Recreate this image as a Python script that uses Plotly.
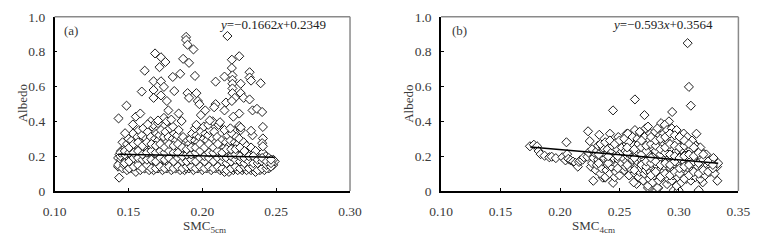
import plotly.graph_objects as go

# ---------------- Panel (a): SMC 5cm vs Albedo ----------------
panel_a_points = [
    (0.143,0.14),(0.144,0.16),(0.145,0.17),(0.143,0.19),(0.144,0.21),(0.145,0.23),(0.143,0.15),(0.145,0.18),
    (0.146,0.13),(0.147,0.15),(0.148,0.18),(0.146,0.20),(0.147,0.22),(0.148,0.25),(0.146,0.28),(0.148,0.17),
    (0.149,0.12),(0.150,0.14),(0.151,0.16),(0.149,0.19),(0.150,0.21),(0.151,0.24),(0.149,0.27),(0.150,0.30),
    (0.152,0.13),(0.153,0.15),(0.154,0.17),(0.152,0.20),(0.153,0.23),(0.154,0.26),(0.152,0.29),(0.153,0.33),(0.154,0.18),
    (0.155,0.11),(0.156,0.14),(0.157,0.16),(0.155,0.18),(0.156,0.21),(0.157,0.24),(0.155,0.27),(0.156,0.31),(0.157,0.35),
    (0.158,0.12),(0.159,0.15),(0.160,0.17),(0.158,0.19),(0.159,0.22),(0.160,0.25),(0.158,0.28),(0.159,0.32),(0.160,0.36),
    (0.161,0.13),(0.162,0.14),(0.163,0.16),(0.161,0.19),(0.162,0.21),(0.163,0.23),(0.161,0.26),(0.162,0.30),(0.163,0.34),
    (0.164,0.12),(0.165,0.15),(0.166,0.17),(0.164,0.20),(0.165,0.22),(0.166,0.25),(0.164,0.28),(0.165,0.31),(0.166,0.37),(0.165,0.40),
    (0.167,0.12),(0.168,0.14),(0.169,0.16),(0.167,0.18),(0.168,0.21),(0.169,0.24),(0.167,0.27),(0.168,0.30),(0.169,0.33),(0.167,0.38),
    (0.170,0.13),(0.171,0.15),(0.172,0.17),(0.170,0.20),(0.171,0.22),(0.172,0.25),(0.170,0.29),(0.171,0.32),(0.172,0.35),(0.170,0.39),
    (0.173,0.12),(0.174,0.14),(0.175,0.17),(0.173,0.19),(0.174,0.23),(0.175,0.26),(0.173,0.28),(0.174,0.31),(0.175,0.34),(0.174,0.42),
    (0.176,0.13),(0.177,0.15),(0.178,0.18),(0.176,0.20),(0.177,0.22),(0.178,0.25),(0.176,0.28),(0.177,0.31),(0.178,0.36),(0.176,0.40),
    (0.179,0.12),(0.180,0.14),(0.181,0.16),(0.179,0.19),(0.180,0.21),(0.181,0.24),(0.179,0.27),(0.180,0.30),(0.181,0.33),(0.180,0.37),
    (0.182,0.13),(0.183,0.15),(0.184,0.17),(0.182,0.20),(0.183,0.23),(0.184,0.25),(0.182,0.29),(0.183,0.32),(0.184,0.35),
    (0.185,0.12),(0.186,0.14),(0.187,0.16),(0.185,0.18),(0.186,0.21),(0.187,0.24),(0.185,0.27),(0.186,0.30),(0.187,0.31),
    (0.188,0.12),(0.189,0.13),(0.190,0.15),(0.188,0.18),(0.189,0.20),(0.190,0.22),(0.188,0.25),(0.189,0.28),(0.190,0.29),
    (0.191,0.13),(0.192,0.15),(0.193,0.17),(0.191,0.19),(0.192,0.22),(0.193,0.24),(0.191,0.27),(0.192,0.30),(0.193,0.33),
    (0.194,0.12),(0.195,0.14),(0.196,0.16),(0.194,0.19),(0.195,0.21),(0.196,0.23),(0.194,0.26),(0.195,0.29),(0.196,0.32),(0.195,0.36),
    (0.197,0.13),(0.198,0.15),(0.199,0.17),(0.197,0.20),(0.198,0.22),(0.199,0.25),(0.197,0.28),(0.198,0.31),(0.199,0.34),
    (0.200,0.12),(0.201,0.14),(0.202,0.16),(0.200,0.18),(0.201,0.21),(0.202,0.24),(0.200,0.27),(0.201,0.30),(0.202,0.33),(0.201,0.37),
    (0.203,0.13),(0.204,0.15),(0.205,0.17),(0.203,0.20),(0.204,0.23),(0.205,0.26),(0.203,0.29),(0.204,0.32),(0.205,0.35),(0.204,0.38),
    (0.206,0.12),(0.207,0.14),(0.208,0.16),(0.206,0.19),(0.207,0.21),(0.208,0.24),(0.206,0.27),(0.207,0.30),(0.208,0.34),(0.207,0.40),
    (0.209,0.13),(0.210,0.15),(0.211,0.18),(0.209,0.20),(0.210,0.22),(0.211,0.25),(0.209,0.28),(0.210,0.31),(0.211,0.38),
    (0.212,0.12),(0.213,0.14),(0.214,0.16),(0.212,0.19),(0.213,0.21),(0.214,0.24),(0.212,0.26),(0.213,0.29),
    (0.215,0.11),(0.216,0.13),(0.217,0.15),(0.215,0.17),(0.216,0.20),(0.217,0.23),(0.215,0.25),(0.216,0.28),(0.217,0.32),(0.215,0.35),
    (0.218,0.11),(0.219,0.14),(0.220,0.16),(0.218,0.18),(0.219,0.21),(0.220,0.23),(0.218,0.26),(0.219,0.29),(0.220,0.33),
    (0.221,0.12),(0.222,0.13),(0.223,0.15),(0.221,0.17),(0.222,0.20),(0.223,0.22),(0.221,0.25),(0.222,0.28),(0.223,0.31),
    (0.224,0.12),(0.225,0.14),(0.226,0.16),(0.224,0.19),(0.225,0.21),(0.226,0.24),(0.224,0.27),(0.225,0.30),(0.226,0.35),(0.225,0.37),
    (0.227,0.12),(0.228,0.13),(0.229,0.15),(0.227,0.17),(0.228,0.20),(0.229,0.22),(0.227,0.25),(0.228,0.28),
    (0.230,0.12),(0.231,0.14),(0.232,0.16),(0.230,0.18),(0.231,0.21),(0.232,0.23),(0.230,0.26),
    (0.233,0.12),(0.234,0.13),(0.235,0.15),(0.233,0.17),(0.234,0.19),(0.235,0.22),(0.233,0.25),(0.234,0.32),
    (0.236,0.11),(0.237,0.13),(0.238,0.15),(0.236,0.17),(0.237,0.19),(0.238,0.21),(0.236,0.23),
    (0.239,0.12),(0.240,0.14),(0.241,0.16),(0.239,0.18),(0.240,0.20),(0.241,0.22),
    (0.242,0.12),(0.243,0.14),(0.244,0.16),(0.242,0.18),(0.243,0.20),
    (0.245,0.13),(0.246,0.15),(0.247,0.17),(0.245,0.19),
    (0.248,0.15),(0.249,0.17),(0.248,0.18),
    # extra in-between points of the dense band
    (0.1445,0.20),(0.1445,0.22),(0.1475,0.16),(0.1475,0.21),(0.1475,0.23),
    (0.1505,0.13),(0.1505,0.17),(0.1505,0.22),(0.1505,0.25),(0.1535,0.14),(0.1535,0.19),(0.1535,0.22),(0.1535,0.27),
    (0.1565,0.15),(0.1565,0.19),(0.1565,0.23),(0.1565,0.28),(0.1595,0.13),(0.1595,0.18),(0.1595,0.21),(0.1595,0.26),
    (0.1625,0.15),(0.1625,0.18),(0.1625,0.22),(0.1625,0.28),(0.1655,0.13),(0.1655,0.18),(0.1655,0.23),(0.1655,0.27),
    (0.1685,0.13),(0.1685,0.17),(0.1685,0.22),(0.1685,0.26),(0.1715,0.14),(0.1715,0.19),(0.1715,0.23),(0.1715,0.27),
    (0.1745,0.13),(0.1745,0.18),(0.1745,0.22),(0.1745,0.25),(0.1775,0.14),(0.1775,0.19),(0.1775,0.23),(0.1775,0.27),
    (0.1805,0.13),(0.1805,0.17),(0.1805,0.22),(0.1805,0.26),(0.1835,0.14),(0.1835,0.19),(0.1835,0.22),(0.1835,0.27),
    (0.1865,0.13),(0.1865,0.17),(0.1865,0.20),(0.1865,0.25),(0.1895,0.14),(0.1895,0.17),(0.1895,0.21),(0.1895,0.24),
    (0.1925,0.14),(0.1925,0.18),(0.1925,0.21),(0.1925,0.25),(0.1955,0.13),(0.1955,0.17),(0.1955,0.22),(0.1955,0.25),
    (0.1985,0.14),(0.1985,0.19),(0.1985,0.23),(0.1985,0.27),(0.2015,0.13),(0.2015,0.17),(0.2015,0.20),(0.2015,0.25),
    (0.2045,0.14),(0.2045,0.19),(0.2045,0.22),(0.2045,0.27),(0.2075,0.13),(0.2075,0.17),(0.2075,0.22),(0.2075,0.25),
    (0.2105,0.14),(0.2105,0.19),(0.2105,0.23),(0.2105,0.27),(0.2135,0.13),(0.2135,0.17),(0.2135,0.20),(0.2135,0.22),
    (0.2165,0.12),(0.2165,0.16),(0.2165,0.19),(0.2165,0.24),(0.2195,0.13),(0.2195,0.17),(0.2195,0.20),(0.2195,0.24),
    (0.2225,0.14),(0.2225,0.18),(0.2225,0.21),(0.2225,0.24),(0.2255,0.13),(0.2255,0.17),(0.2255,0.20),(0.2255,0.25),
    (0.2285,0.14),(0.2285,0.16),(0.2285,0.19),(0.2285,0.23),(0.2315,0.13),(0.2315,0.17),(0.2315,0.20),
    (0.2345,0.14),(0.2345,0.16),(0.2345,0.20),(0.2375,0.12),(0.2375,0.16),(0.2375,0.18),
    (0.2405,0.13),(0.2405,0.17),(0.2405,0.19),(0.2435,0.13),(0.2435,0.15),(0.2435,0.17),
    (0.2465,0.14),(0.2465,0.16),(0.2465,0.18),
    # scattered high values
    (0.1433,0.417),(0.1437,0.077),(0.1477,0.332),(0.1487,0.490),(0.153,0.382),(0.155,0.427),
    (0.158,0.445),(0.159,0.571),(0.161,0.691),(0.168,0.790),(0.167,0.630),(0.167,0.580),
    (0.167,0.535),(0.171,0.711),(0.172,0.630),(0.172,0.549),(0.172,0.768),(0.175,0.741),
    (0.174,0.598),(0.176,0.517),(0.177,0.463),(0.180,0.655),(0.181,0.574),(0.185,0.673),
    (0.184,0.445),(0.187,0.759),(0.189,0.885),(0.189,0.867),(0.190,0.840),(0.191,0.736),
    (0.190,0.562),(0.191,0.535),(0.194,0.813),(0.195,0.661),(0.196,0.562),(0.197,0.517),
    (0.198,0.499),(0.199,0.436),(0.202,0.463),(0.209,0.628),(0.209,0.499),(0.208,0.481),
    (0.215,0.657),(0.216,0.508),(0.215,0.463),(0.217,0.890),(0.220,0.754),(0.220,0.706),
    (0.2204,0.664),(0.2204,0.639),(0.2204,0.616),(0.2204,0.589),(0.2204,0.562),(0.222,0.535),
    (0.220,0.517),(0.221,0.427),(0.225,0.774),(0.226,0.616),(0.226,0.562),(0.228,0.535),
    (0.225,0.445),(0.225,0.374),(0.226,0.365),(0.232,0.682),(0.232,0.652),(0.233,0.634),
    (0.232,0.526),(0.233,0.346),(0.234,0.463),(0.237,0.472),(0.2395,0.619),(0.2405,0.454),
    (0.241,0.368),(0.241,0.302),(0.2405,0.275),(0.241,0.257),(0.163,0.383),(0.170,0.405),
    (0.179,0.410),(0.186,0.402),(0.196,0.380),(0.205,0.405),(0.212,0.395),(0.219,0.360),
]
smc5 = [p[0] for p in panel_a_points]
albedo_a = [p[1] for p in panel_a_points]
fit_a_x = [0.143, 0.249]
slope_a, icept_a = -0.1662, 0.2349

# ---------------- Panel (b): SMC 4cm vs Albedo ----------------
panel_b_points = [
    # left tail
    (0.1747,0.257),(0.178,0.266),(0.1807,0.257),(0.182,0.230),(0.1837,0.212),(0.187,0.203),
    (0.191,0.194),(0.193,0.197),(0.1965,0.189),(0.202,0.194),(0.2046,0.176),(0.2054,0.280),
    (0.206,0.212),(0.207,0.185),(0.209,0.176),(0.211,0.169),(0.213,0.162),(0.215,0.140),
    (0.216,0.167),(0.217,0.176),(0.219,0.180),(0.220,0.194),(0.223,0.197),(0.224,0.221),
    (0.2236,0.343),(0.225,0.287),(0.228,0.059),(0.229,0.158),(0.227,0.140),
    (0.233,0.323),(0.236,0.266),(0.236,0.077),(0.238,0.077),(0.242,0.329),(0.2446,0.463),
    (0.2446,0.047),(0.248,0.104),(0.256,0.329),(0.2644,0.041),(0.263,0.526),(0.271,0.436),
    (0.274,0.018),(0.2807,0.000),(0.2826,0.018),(0.2916,0.400),(0.2943,0.454),(0.2957,0.005),
    (0.2997,0.005),(0.3073,0.849),(0.3084,0.598),(0.310,0.490),(0.3147,0.329),(0.3166,0.005),
    (0.320,0.050),(0.3323,0.059),(0.331,0.140),
    # dense cloud
    (0.226,0.14),(0.227,0.16),(0.228,0.19),(0.229,0.22),(0.227,0.24),
    (0.230,0.12),(0.231,0.15),(0.232,0.18),(0.233,0.20),(0.231,0.23),(0.232,0.26),
    (0.234,0.10),(0.235,0.13),(0.236,0.17),(0.237,0.19),(0.235,0.22),(0.236,0.25),(0.234,0.27),
    (0.238,0.08),(0.239,0.12),(0.240,0.15),(0.241,0.18),(0.239,0.21),(0.240,0.24),(0.238,0.28),
    (0.242,0.10),(0.243,0.14),(0.244,0.17),(0.245,0.19),(0.243,0.22),(0.244,0.26),(0.242,0.29),
    (0.246,0.08),(0.247,0.11),(0.248,0.15),(0.249,0.18),(0.247,0.21),(0.248,0.24),(0.246,0.27),(0.249,0.31),
    (0.250,0.09),(0.251,0.13),(0.252,0.16),(0.253,0.19),(0.251,0.22),(0.252,0.25),(0.250,0.29),
    (0.254,0.12),(0.255,0.14),(0.256,0.17),(0.257,0.20),(0.255,0.23),(0.256,0.27),(0.254,0.30),(0.257,0.33),
    (0.258,0.09),(0.259,0.13),(0.260,0.16),(0.261,0.18),(0.259,0.21),(0.260,0.24),(0.258,0.28),(0.261,0.31),
    (0.262,0.05),(0.263,0.10),(0.264,0.14),(0.265,0.17),(0.263,0.20),(0.264,0.22),(0.262,0.26),(0.265,0.30),(0.263,0.35),
    (0.266,0.08),(0.267,0.11),(0.268,0.13),(0.269,0.16),(0.267,0.19),(0.268,0.23),(0.266,0.27),(0.269,0.32),(0.267,0.34),
    (0.270,0.06),(0.271,0.10),(0.272,0.12),(0.273,0.15),(0.271,0.18),(0.272,0.21),(0.270,0.24),(0.273,0.28),(0.271,0.31),(0.272,0.36),
    (0.274,0.03),(0.275,0.07),(0.276,0.11),(0.277,0.14),(0.275,0.17),(0.276,0.20),(0.274,0.22),(0.277,0.25),(0.275,0.29),(0.276,0.33),(0.274,0.37),
    (0.278,0.05),(0.279,0.09),(0.280,0.12),(0.281,0.15),(0.279,0.18),(0.280,0.21),(0.278,0.24),(0.281,0.27),(0.279,0.30),(0.280,0.34),
    (0.282,0.02),(0.283,0.06),(0.284,0.10),(0.285,0.13),(0.283,0.16),(0.284,0.19),(0.282,0.22),(0.285,0.25),(0.283,0.28),(0.284,0.32),(0.282,0.36),(0.285,0.39),
    (0.286,0.08),(0.287,0.11),(0.288,0.14),(0.289,0.17),(0.287,0.20),(0.288,0.23),(0.286,0.26),(0.289,0.29),(0.287,0.33),(0.288,0.38),
    (0.290,0.04),(0.291,0.07),(0.292,0.10),(0.293,0.13),(0.291,0.16),(0.292,0.19),(0.290,0.22),(0.293,0.25),(0.291,0.28),(0.292,0.31),(0.290,0.35),
    (0.294,0.06),(0.295,0.09),(0.296,0.12),(0.297,0.15),(0.295,0.18),(0.296,0.21),(0.294,0.24),(0.297,0.27),(0.295,0.30),(0.296,0.34),(0.294,0.36),
    (0.298,0.03),(0.299,0.08),(0.300,0.11),(0.301,0.14),(0.299,0.17),(0.300,0.20),(0.298,0.23),(0.301,0.26),(0.299,0.29),(0.300,0.32),(0.298,0.35),
    (0.302,0.05),(0.303,0.09),(0.304,0.12),(0.305,0.15),(0.303,0.18),(0.304,0.21),(0.302,0.24),(0.305,0.27),(0.303,0.30),(0.304,0.33),
    (0.306,0.07),(0.307,0.10),(0.308,0.13),(0.309,0.16),(0.307,0.19),(0.308,0.22),(0.306,0.25),(0.309,0.28),(0.307,0.31),
    (0.310,0.06),(0.311,0.09),(0.312,0.12),(0.313,0.15),(0.311,0.18),(0.312,0.21),(0.310,0.24),(0.313,0.27),(0.311,0.29),
    (0.314,0.08),(0.315,0.11),(0.316,0.14),(0.317,0.17),(0.315,0.20),(0.316,0.23),(0.314,0.26),
    (0.318,0.07),(0.319,0.10),(0.320,0.13),(0.321,0.16),(0.319,0.19),(0.320,0.22),(0.318,0.25),
    (0.322,0.09),(0.323,0.12),(0.324,0.15),(0.325,0.18),(0.323,0.21),
    (0.326,0.11),(0.327,0.14),(0.328,0.17),(0.329,0.19),
    (0.330,0.10),(0.332,0.14),(0.333,0.16),
    # extra in-between points
    (0.2325,0.16),(0.2325,0.21),(0.2405,0.16),(0.2405,0.20),(0.2485,0.13),(0.2485,0.20),
    (0.2565,0.15),(0.2565,0.22),(0.2565,0.25),(0.2625,0.12),(0.2625,0.19),(0.2625,0.24),
    (0.2685,0.15),(0.2685,0.21),(0.2685,0.25),(0.2685,0.29),(0.2725,0.14),(0.2725,0.17),(0.2725,0.23),(0.2725,0.26),
    (0.2765,0.09),(0.2765,0.16),(0.2765,0.19),(0.2765,0.27),(0.2765,0.31),
    (0.2805,0.11),(0.2805,0.17),(0.2805,0.23),(0.2805,0.26),(0.2805,0.29),
    (0.2845,0.08),(0.2845,0.15),(0.2845,0.21),(0.2845,0.24),(0.2845,0.30),
    (0.2885,0.10),(0.2885,0.16),(0.2885,0.22),(0.2885,0.25),(0.2885,0.31),
    (0.2925,0.09),(0.2925,0.15),(0.2925,0.21),(0.2925,0.27),(0.2925,0.33),
    (0.2965,0.11),(0.2965,0.17),(0.2965,0.20),(0.2965,0.26),(0.2965,0.32),
    (0.3005,0.10),(0.3005,0.13),(0.3005,0.19),(0.3005,0.25),(0.3005,0.31),
    (0.3045,0.07),(0.3045,0.14),(0.3045,0.20),(0.3045,0.26),(0.3045,0.29),
    (0.3085,0.09),(0.3085,0.15),(0.3085,0.21),(0.3085,0.27),
    (0.3125,0.11),(0.3125,0.17),(0.3125,0.20),(0.3125,0.25),
    (0.3165,0.10),(0.3165,0.16),(0.3165,0.22),(0.3205,0.12),(0.3205,0.18),(0.3205,0.21),
    (0.3245,0.11),(0.3245,0.17),(0.3285,0.13),(0.3285,0.15),
]
smc4 = [p[0] for p in panel_b_points]
albedo_b = [p[1] for p in panel_b_points]
fit_b_x = [0.175, 0.333]
slope_b, icept_b = -0.593, 0.3564

y_ticks = [0, 0.2, 0.4, 0.6, 0.8, 1.0]
y_tick_text = ["0", "0.2", "0.4", "0.6", "0.8", "1.0"]
xa_ticks = [0.10, 0.15, 0.20, 0.25, 0.30]
xa_text = ["0.10", "0.15", "0.20", "0.25", "0.30"]
xb_ticks = [0.10, 0.15, 0.20, 0.25, 0.30, 0.35]
xb_text = ["0.10", "0.15", "0.20", "0.25", "0.30", "0.35"]

W, H = 763, 246
FONT = "Liberation Serif"
TXT = "#3a3a3a"

def px(x):
    return x / W

def py(y):
    return 1 - y / H

dom_a = [px(44), px(349)]
dom_b = [px(443), px(750)]
dom_y = [py(196), py(10.5)]

marker = dict(symbol="diamond", size=7, color="white", line=dict(color="#1e1e1e", width=1))

fig = go.Figure()
fig.add_trace(go.Scatter(x=smc5, y=albedo_a, mode="markers", marker=marker,
                         xaxis="x", yaxis="y", showlegend=False))
fig.add_trace(go.Scatter(x=fit_a_x, y=[slope_a * v + icept_a for v in fit_a_x], mode="lines",
                         line=dict(color="black", width=1.5), xaxis="x", yaxis="y", showlegend=False))
fig.add_trace(go.Scatter(x=smc4, y=albedo_b, mode="markers", marker=marker,
                         xaxis="x2", yaxis="y2", showlegend=False))
fig.add_trace(go.Scatter(x=fit_b_x, y=[slope_b * v + icept_b for v in fit_b_x], mode="lines",
                         line=dict(color="black", width=1.5), xaxis="x2", yaxis="y2", showlegend=False))

axis_common = dict(showgrid=False, zeroline=False, showline=True, linecolor="black", linewidth=1.5,
                   ticks="inside", ticklen=3, tickcolor="black", tickwidth=1,
                   tickfont=dict(family=FONT, size=13.5, color=TXT))

fig.update_layout(
    width=W, height=H, margin=dict(l=0, r=0, t=0, b=0),
    paper_bgcolor="white", plot_bgcolor="white",
    xaxis=dict(domain=dom_a, range=[0.10, 0.30], tickvals=xa_ticks, ticktext=xa_text,
               anchor="y", ticklabelstandoff=7, **axis_common),
    yaxis=dict(domain=dom_y, range=[0, 1.0], tickvals=y_ticks, ticktext=y_tick_text,
               anchor="x", ticklabelstandoff=5, **axis_common),
    xaxis2=dict(domain=dom_b, range=[0.10, 0.35], tickvals=xb_ticks, ticktext=xb_text,
                anchor="y2", ticklabelstandoff=7, **axis_common),
    yaxis2=dict(domain=dom_y, range=[0, 1.0], tickvals=y_ticks, ticktext=y_tick_text,
                anchor="x2", ticklabelstandoff=5, **axis_common),
)

# gray top / right border
shapes = []
for xr, yr in (("x", "y"), ("x2", "y2")):
    shapes.append(dict(type="line", xref=f"{xr} domain", yref=f"{yr} domain", x0=0, x1=1, y0=1, y1=1,
                       line=dict(color="#8a8a8a", width=1.5)))
    shapes.append(dict(type="line", xref=f"{xr} domain", yref=f"{yr} domain", x0=1, x1=1, y0=0, y1=1,
                       line=dict(color="#8a8a8a", width=1.5)))
fig.update_layout(shapes=shapes)

ann = []
# panel letters
ann.append(dict(x=px(52), y=py(25), xref="paper", yref="paper", text="(a)", showarrow=False,
                xanchor="left", yanchor="middle", font=dict(family=FONT, size=13, color=TXT)))
ann.append(dict(x=px(452), y=py(25), xref="paper", yref="paper", text="(b)", showarrow=False,
                xanchor="left", yanchor="middle", font=dict(family=FONT, size=13, color=TXT)))
# equations
ann.append(dict(x=px(212), y=py(19), xref="paper", yref="paper",
                text="<i>y</i>=\u22120.1662<i>x</i>+0.2349", showarrow=False,
                xanchor="left", yanchor="middle", font=dict(family=FONT, size=13, color="#222")))
ann.append(dict(x=px(617), y=py(19), xref="paper", yref="paper",
                text="<i>y</i>=\u22120.593<i>x</i>+0.3564", showarrow=False,
                xanchor="left", yanchor="middle", font=dict(family=FONT, size=13, color="#222")))
# y titles
for xx in (11, 410):
    ann.append(dict(x=px(xx), y=py(103), xref="paper", yref="paper", text="Albedo", textangle=-90,
                    showarrow=False, xanchor="center", yanchor="middle",
                    font=dict(family=FONT, size=13, color=TXT)))
# x titles
ann.append(dict(x=px(199), y=py(224), xref="paper", yref="paper", text="SMC<sub>5cm</sub>",
                showarrow=False, xanchor="center", yanchor="top", borderpad=0,
                font=dict(family=FONT, size=13, color=TXT)))
ann.append(dict(x=px(600), y=py(224), xref="paper", yref="paper", text="SMC<sub>4cm</sub>",
                showarrow=False, xanchor="center", yanchor="top", borderpad=0,
                font=dict(family=FONT, size=13, color=TXT)))
fig.update_layout(annotations=ann)

fig.write_html("out.html")
